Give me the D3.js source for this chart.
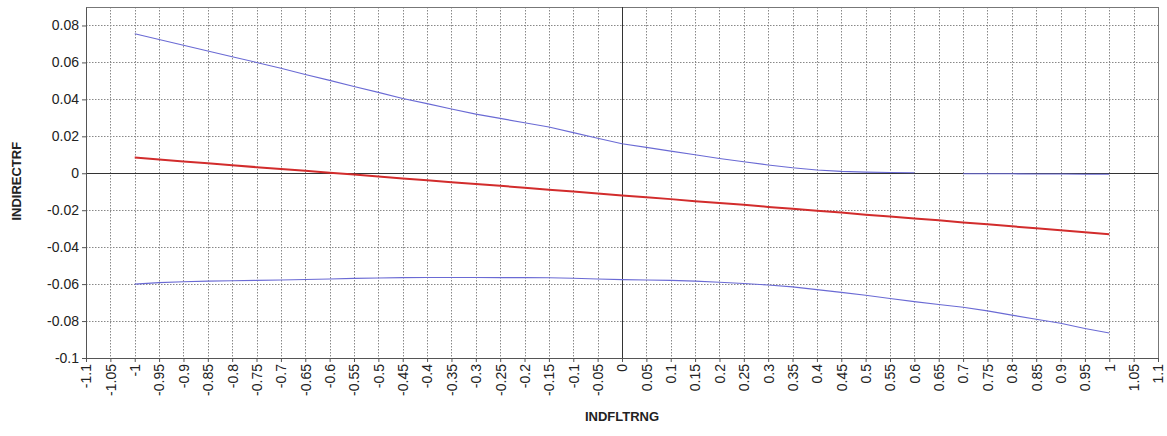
<!DOCTYPE html>
<html>
<head>
<meta charset="utf-8">
<script src="https://cdn.jsdelivr.net/npm/d3@7"></script>
<style>
  body { margin: 0; background: #fff; }
  text { font-family: "Liberation Sans", Arial, sans-serif; fill: #222; }
</style>
</head>
<body>
<div id="chart"></div>
<script>
// x positions of the samples
var xs = [-1, -0.95, -0.9, -0.85, -0.8, -0.75, -0.7, -0.65, -0.6, -0.55, -0.5,
          -0.45, -0.4, -0.35, -0.3, -0.25, -0.2, -0.15, -0.1, -0.05, 0,
          0.05, 0.1, 0.15, 0.2, 0.25, 0.3, 0.35, 0.4, 0.45, 0.5,
          0.55, 0.6, 0.65, 0.7, 0.75, 0.8, 0.85, 0.9, 0.95, 1];

// central estimate (red)
var mid = [0.0085, 0.0075, 0.0064, 0.0054, 0.0044, 0.0033, 0.0023, 0.0013, 0.0003, -0.0007, -0.0018,
           -0.0028, -0.0038, -0.0048, -0.0058, -0.0068, -0.0078, -0.0089, -0.0099, -0.0109, -0.0120,
           -0.0130, -0.0140, -0.0151, -0.0161, -0.0171, -0.0182, -0.0192, -0.0203, -0.0213, -0.0224,
           -0.0234, -0.0245, -0.0255, -0.0266, -0.0276, -0.0287, -0.0298, -0.0308, -0.0319, -0.0330];

// upper band (blue), null = missing
var upper = [0.0755, 0.0724, 0.0693, 0.0662, 0.0631, 0.0600, 0.0568, 0.0535, 0.0503, 0.0470, 0.0438,
             0.0405, 0.0377, 0.0348, 0.0320, 0.0297, 0.0273, 0.0250, 0.0220, 0.0190, 0.0160,
             0.0140, 0.0120, 0.0100, 0.0080, 0.0062, 0.0045, 0.0030, 0.0018, 0.0010, 0.0006,
             0.0004, 0.0003, null, -0.0003, -0.0003, -0.0003, -0.0004, -0.0004, -0.0005, -0.0005];

// lower band (blue)
var lower = [-0.0600, -0.0592, -0.0587, -0.0584, -0.0582, -0.0580, -0.0578, -0.0575, -0.0572, -0.0569, -0.0567,
             -0.0565, -0.0564, -0.0564, -0.0564, -0.0565, -0.0565, -0.0566, -0.0568, -0.0572, -0.0576,
             -0.0578, -0.0580, -0.0584, -0.0590, -0.0597, -0.0605, -0.0615, -0.0630, -0.0645, -0.0660,
             -0.0678, -0.0695, -0.0710, -0.0725, -0.0745, -0.0768, -0.0790, -0.0812, -0.0840, -0.0865];

var xTicks = ["-1.1", "-1.05", "-1", "-0.95", "-0.9", "-0.85", "-0.8", "-0.75", "-0.7", "-0.65", "-0.6",
              "-0.55", "-0.5", "-0.45", "-0.4", "-0.35", "-0.3", "-0.25", "-0.2", "-0.15", "-0.1",
              "-0.05", "0", "0.05", "0.1", "0.15", "0.2", "0.25", "0.3", "0.35", "0.4",
              "0.45", "0.5", "0.55", "0.6", "0.65", "0.7", "0.75", "0.8", "0.85", "0.9",
              "0.95", "1", "1.05", "1.1"];
var yTicks = ["0.08", "0.06", "0.04", "0.02", "0", "-0.02", "-0.04", "-0.06", "-0.08", "-0.1"];

var margin = {top: 7, right: 9, bottom: 78, left: 86},
    width = 1167 - margin.left - margin.right,
    height = 436 - margin.top - margin.bottom;

var svg = d3.select("#chart")
  .append("svg")
    .attr("width", width + margin.left + margin.right)
    .attr("height", height + margin.top + margin.bottom)
  .append("g")
    .attr("transform", "translate(" + margin.left + "," + margin.top + ")");

var x = d3.scaleLinear()
    .domain([-1.1, 1.1])
    .range([0, width]);
var y = d3.scaleLinear()
    .domain([-0.1, 0.09])
    .range([height, 0]);

// grid
svg.append("g")
  .selectAll("line")
  .data(xTicks.map(Number))
  .enter()
  .append("line")
    .attr("x1", d => Math.round(x(d)) + 0.5)
    .attr("x2", d => Math.round(x(d)) + 0.5)
    .attr("y1", 0)
    .attr("y2", height)
    .attr("stroke", "#888")
    .attr("stroke-dasharray", "1.5,1.5");
svg.append("g")
  .selectAll("line")
  .data(yTicks.map(Number))
  .enter()
  .append("line")
    .attr("x1", 0)
    .attr("x2", width)
    .attr("y1", d => Math.round(y(d)) + 0.5)
    .attr("y2", d => Math.round(y(d)) + 0.5)
    .attr("stroke", "#888")
    .attr("stroke-dasharray", "1.5,1.5");

// frame
svg.append("rect")
    .attr("x", 0.5)
    .attr("y", 0.5)
    .attr("width", width)
    .attr("height", height)
    .attr("fill", "none")
    .attr("stroke", "#777");

// zero lines
svg.append("line")
    .attr("x1", 0).attr("x2", width)
    .attr("y1", Math.round(y(0)) + 0.5).attr("y2", Math.round(y(0)) + 0.5)
    .attr("stroke", "#333");
svg.append("line")
    .attr("x1", Math.round(x(0)) + 0.5).attr("x2", Math.round(x(0)) + 0.5)
    .attr("y1", 0).attr("y2", height)
    .attr("stroke", "#333");

// axes
var xAxis = svg.append("g")
    .attr("transform", "translate(0," + height + ")")
    .call(d3.axisBottom(x)
      .tickValues(xTicks.map(Number))
      .tickFormat((d, i) => xTicks[i])
      .tickSize(4)
      .tickSizeOuter(0));
xAxis.selectAll("text")
    .attr("transform", "rotate(-90)")
    .attr("text-anchor", "end")
    .attr("x", -6)
    .attr("y", 0)
    .attr("dy", "0.35em")
    .style("font-size", "14px");

var yAxis = svg.append("g")
    .call(d3.axisLeft(y)
      .tickValues(yTicks.map(Number))
      .tickFormat((d, i) => yTicks[i])
      .tickSize(4)
      .tickSizeOuter(0));
yAxis.selectAll("text")
    .style("font-size", "14px");
svg.selectAll(".domain").attr("stroke", "#555");
svg.selectAll(".tick line").attr("stroke", "#555");

// series
var line = d3.line()
    .defined(d => d[1] !== null)
    .x(d => x(d[0]))
    .y(d => y(d[1]));

svg.append("path")
    .datum(xs.map((v, i) => [v, upper[i]]))
    .attr("fill", "none")
    .attr("stroke", "#6a6ad4")
    .attr("stroke-width", 1.1)
    .attr("d", line);
svg.append("path")
    .datum(xs.map((v, i) => [v, lower[i]]))
    .attr("fill", "none")
    .attr("stroke", "#6a6ad4")
    .attr("stroke-width", 1.1)
    .attr("d", line);
svg.append("path")
    .datum(xs.map((v, i) => [v, mid[i]]))
    .attr("fill", "none")
    .attr("stroke", "#d22c2c")
    .attr("stroke-width", 2)
    .attr("d", line);

// axis titles
svg.append("text")
    .text("INDFLTRNG")
    .attr("x", x(0))
    .attr("y", 421 - margin.top)
    .attr("text-anchor", "middle")
    .style("font-size", "13px")
    .style("font-weight", "bold");
svg.append("text")
    .text("INDIRECTRF")
    .attr("transform", "translate(" + (21 - margin.left) + "," + (y(0) + 8) + ") rotate(-90)")
    .attr("text-anchor", "middle")
    .style("font-size", "13px")
    .style("font-weight", "bold");
</script>
</body>
</html>
